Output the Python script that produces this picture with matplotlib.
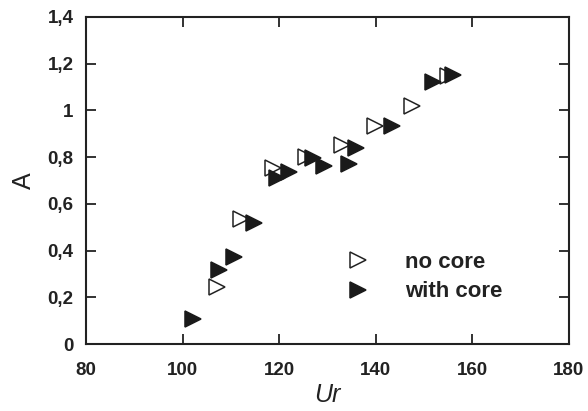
import matplotlib.pyplot as plt
from matplotlib.ticker import FuncFormatter

plt.rcParams['font.family'] = ['Liberation Sans', 'DejaVu Sans']

# no core (open markers)
ur_open = [107.2, 112.1, 118.8, 125.5, 132.9, 139.8, 147.4, 155.0]
a_open = [0.243, 0.535, 0.752, 0.802, 0.852, 0.933, 1.020, 1.147]

# with core (filled markers)
ur_fill = [102.2, 107.5, 110.7, 114.8, 119.5, 122.1, 126.9, 129.3, 134.5, 136.0, 143.4, 151.8, 155.9]
a_fill = [0.106, 0.317, 0.374, 0.519, 0.709, 0.738, 0.795, 0.763, 0.769, 0.838, 0.933, 1.123, 1.152]

xticks = [80, 100, 120, 140, 160, 180]
yticks = [0, 0.2, 0.4, 0.6, 0.8, 1.0, 1.2, 1.4]

fig = plt.figure(figsize=(5.88, 4.11), dpi=100)
ax = fig.add_axes([86 / 588, 1 - 344 / 411, 483 / 588, 327 / 411])

ax.plot(ur_open, a_open, linestyle='none', marker='>', markersize=11,
        markerfacecolor='white', markeredgecolor='#222222', markeredgewidth=1.1,
        label='no core')
ax.plot(ur_fill, a_fill, linestyle='none', marker='>', markersize=11,
        markerfacecolor='#1a1a1a', markeredgecolor='#1a1a1a', markeredgewidth=1.1,
        label='with core')

ax.set_xlim(80, 180)
ax.set_ylim(0, 1.4)
ax.set_xticks(xticks)
ax.set_yticks(yticks)


def comma(v, pos):
    s = '%g' % round(v, 2)
    return s.replace('.', ',')


ax.yaxis.set_major_formatter(FuncFormatter(comma))
ax.xaxis.set_major_formatter(FuncFormatter(comma))
ax.tick_params(direction='in', length=7, width=1.3, top=True, right=True,
               labelsize=13.5, colors='#222222')
ax.tick_params(axis='x', pad=13)
ax.tick_params(axis='y', pad=9)
for lab in ax.get_xticklabels() + ax.get_yticklabels():
    lab.set_fontweight('bold')
for sp in ax.spines.values():
    sp.set_linewidth(1.5)
    sp.set_color('#222222')

ax.set_xlabel('Ur', fontsize=18, style='italic', color='#222222', labelpad=3)
ax.set_ylabel('A', fontsize=18, color='#222222', labelpad=8)

leg = ax.legend(loc='center left', bbox_to_anchor=(0.54, 0.205), frameon=False,
                prop={'size': 16, 'weight': 'bold'}, borderpad=0, borderaxespad=0,
                handletextpad=1.6, labelspacing=0.4, handlelength=1.0)
for t in leg.get_texts():
    t.set_color('#222222')

fig.savefig('out.png', dpi=100)
